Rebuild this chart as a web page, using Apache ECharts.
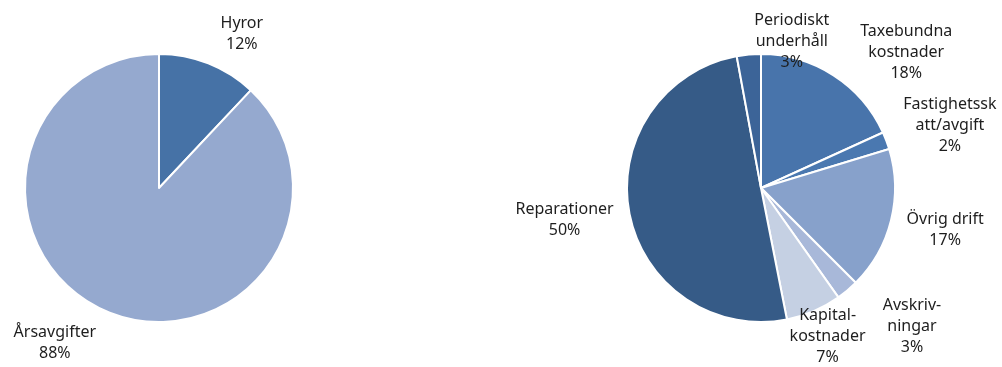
<!DOCTYPE html>
<html><head><meta charset="utf-8">
<script src="https://cdn.jsdelivr.net/npm/echarts@6/dist/echarts.min.js"></script>
<style>html,body{margin:0;padding:0;background:#fff}#chart{width:1002px;height:367px}</style>
</head><body><div id="chart"></div>
<script>
// ---- data ----
const incomeCategories = ['Hyror', 'Årsavgifter'];
const incomeValues = [12, 88];
const costCategories = ['Taxebundna\nkostnader', 'Fastighetssk\natt/avgift', 'Övrig drift', 'Avskriv-\nningar', 'Kapital-\nkostnader', 'Reparationer', 'Periodiskt\nunderhåll'];
const costValues = [18.2, 2.1, 17.2, 2.7, 6.7, 50.2, 2.9];

// ---- styles ----
const incomeColors = ['#4672a6', '#95a9cf'];
const costColors = ['#4874ab', '#4a78b0', '#87a1cb', '#a8b8d9', '#c5d0e3', '#365b87', '#3c6498'];
const pies = [{cx: 159, cy: 188, r: 134}, {cx: 761, cy: 188, r: 134}];
const labelGap = 16;
const labelNudge = [
  [[8, 5], [-11, -4]],
  [[18, 17], [2, 2], [0, 0], [25, 0], [-30, -18], [0, 0], [53, 34]]
];
const seriesValues = [incomeValues, costValues];

function midAngle(vals, i) {
  const total = vals.reduce((a, b) => a + b, 0);
  let cum = 0;
  for (let k = 0; k < i; k++) cum += vals[k];
  return (cum + vals[i] / 2) / total * 2 * Math.PI;
}
function clamp(v) { return Math.max(-1, Math.min(1, v)); }

function labelLayout(params) {
  const si = params.seriesIndex, di = params.dataIndex;
  const p = pies[si];
  const th = midAngle(seriesValues[si], di);
  const s = Math.sin(th), c = Math.cos(th);
  const a = params.labelRect.width / 2, b = params.labelRect.height / 2;
  const px = p.cx + (p.r + labelGap) * s;
  const py = p.cy - (p.r + labelGap) * c;
  const n = labelNudge[si][di];
  return {
    x: px + a * clamp(2.5 * s) + n[0],
    y: py - b * c + n[1],
    align: 'center',
    verticalAlign: 'middle'
  };
}

const labelStyle = {
  show: true,
  position: 'outside',
  fontFamily: 'Noto Sans',
  fontSize: 16,
  lineHeight: 21,
  color: '#1e1e1e',
  align: 'center',
  formatter: p => p.name + '\n' + Math.round(p.percent) + '%'
};

function makeSeries(idx, cats, vals, colors) {
  return {
    type: 'pie',
    center: [pies[idx].cx, pies[idx].cy],
    radius: pies[idx].r,
    startAngle: 90,
    clockwise: true,
    avoidLabelOverlap: false,
    animation: false,
    silent: true,
    label: labelStyle,
    labelLine: {show: false},
    labelLayout: labelLayout,
    itemStyle: {borderColor: '#ffffff', borderWidth: 2},
    data: cats.map((n, i) => ({name: n, value: vals[i], itemStyle: {color: colors[i]}}))
  };
}

const chart = echarts.init(document.getElementById('chart'), null, {renderer: 'canvas'});
chart.setOption({
  backgroundColor: '#ffffff',
  animation: false,
  series: [
    makeSeries(0, incomeCategories, incomeValues, incomeColors),
    makeSeries(1, costCategories, costValues, costColors)
  ]
});
</script>
</body></html>
